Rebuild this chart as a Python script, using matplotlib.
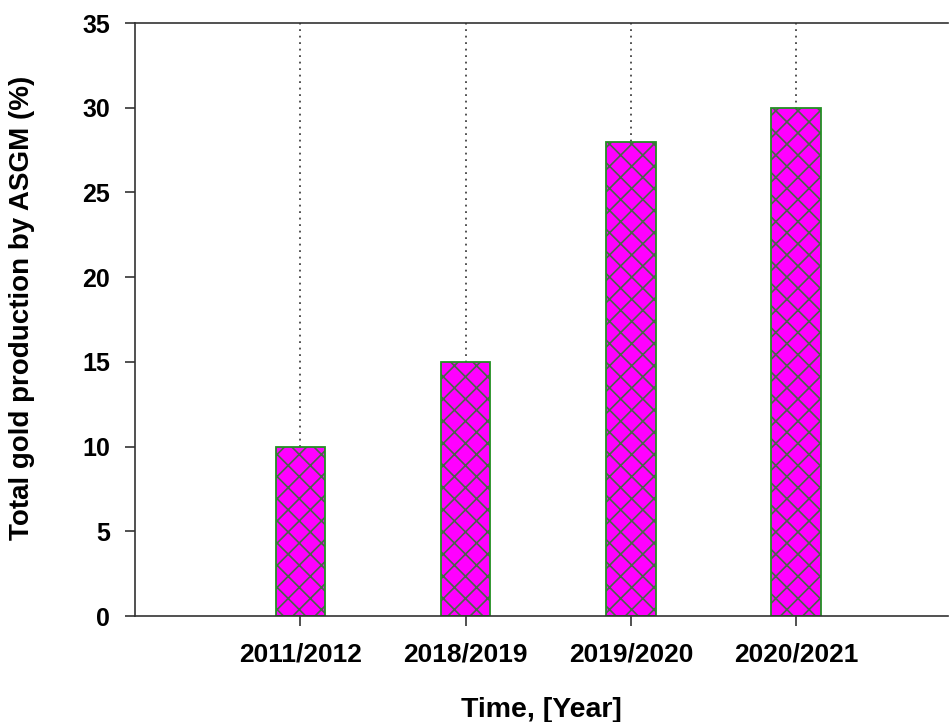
import numpy as np
import matplotlib
matplotlib.use("Agg")
import matplotlib.pyplot as plt

# hatch spacing follows the dpi, so render at a higher dpi and shrink point sizes
DPI = 400 / 3
S = 100 / DPI

plt.rcParams['font.family'] = ['Liberation Sans', 'DejaVu Sans']
plt.rcParams['font.weight'] = 'bold'
plt.rcParams['hatch.linewidth'] = 1.2 * S

years = ["2011/2012", "2018/2019", "2019/2020", "2020/2021"]
share = [10, 15, 28, 30]

x = np.arange(1, len(years) + 1)

fig = plt.figure(figsize=(949 / DPI, 722 / DPI), dpi=DPI)
ax = fig.add_axes([0.1423, 0.1468, 0.857, 0.8213])

# dotted vertical grid behind the bars
ax.set_axisbelow(True)
ax.xaxis.grid(True, linestyle=(0, (1, 2.6)), color="#444444", linewidth=1.3 * S)

# fill + hatch, then the green outline on top
ax.bar(x, share, width=0.3, color="#ff00ff", hatch="xx", edgecolor="#4a654a", linewidth=0)
ax.bar(x, share, width=0.3, fill=False, edgecolor="#239023", linewidth=1.3 * S)

ax.set_xlim(0, 4.92)
ax.set_ylim(0, 35)
ax.set_yticks(range(0, 36, 5))
ax.set_xticks(x)
ax.set_xticklabels(years)

for side in ["left", "bottom", "top"]:
    ax.spines[side].set_linewidth(1.2 * S)
    ax.spines[side].set_color("#333333")
ax.spines["right"].set_visible(False)

ax.tick_params(axis="both", direction="out", length=7 * S, width=1.2 * S, color="#333333",
               labelsize=18 * S, pad=11 * S)
ax.tick_params(axis="x", labelsize=19 * S, pad=12 * S)

ax.set_xlabel("Time, [Year]", fontsize=20.5 * S, fontweight="bold", labelpad=22 * S)
ax.set_ylabel("Total gold production by ASGM (%)", fontsize=20 * S, fontweight="bold")
ax.yaxis.set_label_coords(-0.123, 0.52)

fig.savefig("out.png", dpi=DPI)
